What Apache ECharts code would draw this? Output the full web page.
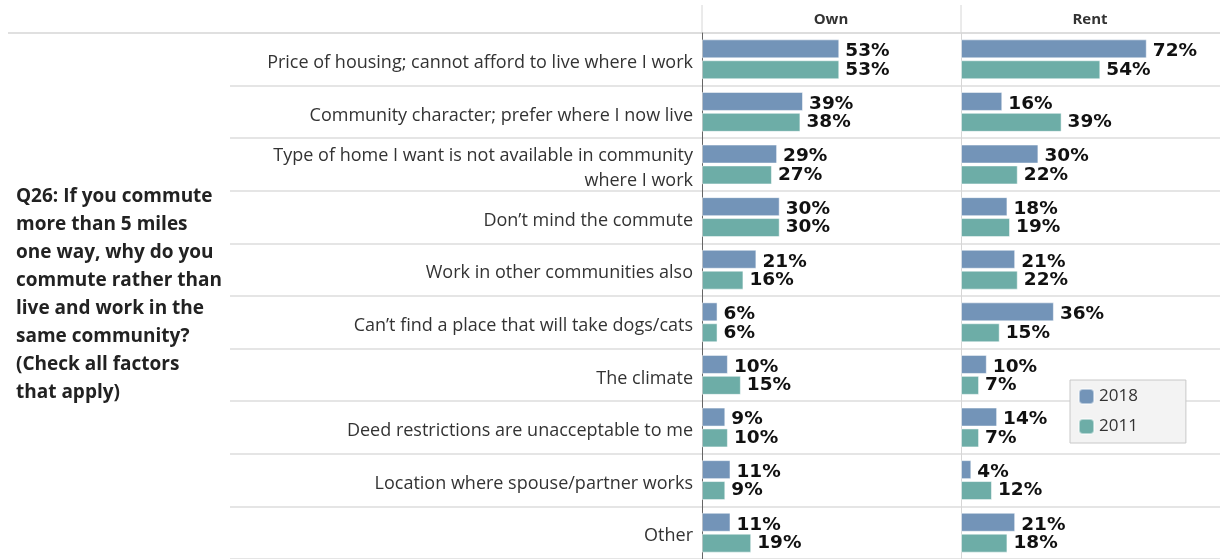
<!DOCTYPE html>
<html><head><meta charset="utf-8">
<script src="https://cdn.jsdelivr.net/npm/echarts@6/dist/echarts.min.js"></script>
<style>html,body{margin:0;padding:0;background:#fff}#c{width:1220px;height:559px}</style>
</head><body><div id="c"></div>
<script>
const categories = [
  'Price of housing; cannot afford to live where I work',
  'Community character; prefer where I now live',
  'Type of home I want is not available in community\nwhere I work',
  'Don\u2019t mind the commute',
  'Work in other communities also',
  'Can\u2019t find a place that will take dogs/cats',
  'The climate',
  'Deed restrictions are unacceptable to me',
  'Location where spouse/partner works',
  'Other'
];
const panels = ['Own', 'Rent'];
const seriesNames = ['2018', '2011'];
const own2018 = [53, 39, 29, 30, 21, 6, 10, 9, 11, 11];
const own2011 = [53, 38, 27, 30, 16, 6, 15, 10, 9, 19];
const rent2018 = [72, 16, 30, 18, 21, 36, 10, 14, 4, 21];
const rent2011 = [54, 39, 22, 19, 22, 15, 7, 7, 12, 18];
const question = 'Q26: If you commute\nmore than 5 miles\none way, why do you\ncommute rather than\nlive and work in the\nsame community?\n(Check all factors\nthat apply)';

const C18 = '#7394B8', C11 = '#6DADA7';
const chart = echarts.init(document.getElementById('c'), null, {renderer: 'canvas'});
const gTop = 33, gHeight = 526;
function lbl(dy) {
  return {show: true, position: 'right', distance: 6, offset: [0, dy], formatter: '{c}%', color: '#111',
    fontFamily: 'DejaVu Sans', fontWeight: 'bold', fontSize: 18.5};
}
function bar(name, data, idx, color, dy) {
  return {name, type: 'bar', xAxisIndex: idx, yAxisIndex: idx, data, barWidth: 19, barGap: '10%',
    itemStyle: {color, borderColor: 'rgba(255,255,255,0.5)', borderWidth: 1}, label: lbl(dy), silent: true};
}
chart.setOption({
  animation: false,
  textStyle: {fontFamily: 'Open Sans'},
  title: {text: question, left: 16, top: 183, padding: 0,
    textStyle: {fontFamily: 'Open Sans', fontWeight: 'bold', fontSize: 19, lineHeight: 28, color: '#222'}},
  legend: {data: seriesNames, orient: 'vertical', left: 1070, top: 380, itemWidth: 15, itemHeight: 15,
    itemGap: 13, padding: [8, 48, 8, 8], backgroundColor: '#f3f3f3', borderColor: '#c8c8c8', borderWidth: 1,
    textStyle: {fontFamily: 'Open Sans', fontSize: 17, color: '#333'}, selectedMode: false},
  grid: [
    {left: 702, width: 259, top: gTop, height: gHeight},
    {left: 961, width: 258, top: gTop, height: gHeight},
    {left: 230, width: 990, top: gTop, height: gHeight}
  ],
  xAxis: [
    {gridIndex: 0, type: 'value', min: 0, max: 100, show: false},
    {gridIndex: 1, type: 'value', min: 0, max: 100, show: false},
    {gridIndex: 2, type: 'value', min: 0, max: 100, show: false}
  ],
  yAxis: [
    {gridIndex: 0, type: 'category', data: categories, inverse: true,
      axisLine: {show: true, lineStyle: {color: '#666', width: 1}}, axisTick: {show: false},
      axisLabel: {margin: 9, fontSize: 18, color: '#333', fontFamily: 'Open Sans', align: 'right', lineHeight: 25,
        formatter: v => v.split('\n').map(s => '{a|' + s + '}').join('\n'),
        rich: {a: {fontSize: 18, color: '#333', fontFamily: 'Open Sans', lineHeight: 25, padding: [7, 0, 0, 0]}}},
      splitLine: {show: false}},
    {gridIndex: 1, type: 'category', data: categories, inverse: true,
      axisLine: {show: true, lineStyle: {color: '#d6d6d6'}}, axisTick: {show: false}, axisLabel: {show: false}},
    {gridIndex: 2, type: 'category', data: categories, inverse: true, z: 0,
      axisLine: {show: false}, axisTick: {show: false}, axisLabel: {show: false},
      splitLine: {show: true, lineStyle: {color: '#dcdcdc', width: 1.5}}}
  ],
  graphic: [
    {type: 'line', shape: {x1: 8, y1: gTop, x2: 1220, y2: gTop}, style: {stroke: '#d6d6d6', lineWidth: 1.5}},
    {type: 'line', shape: {x1: 702, y1: 5, x2: 702, y2: gTop}, style: {stroke: '#d6d6d6', lineWidth: 1}},
    {type: 'line', shape: {x1: 961, y1: 5, x2: 961, y2: gTop}, style: {stroke: '#d6d6d6', lineWidth: 1}},
    {type: 'text', x: 831, y: 20, style: {text: panels[0], align: 'center', verticalAlign: 'middle',
      font: 'bold 15px "Open Sans"', fill: '#333'}},
    {type: 'text', x: 1090, y: 20, style: {text: panels[1], align: 'center', verticalAlign: 'middle',
      font: 'bold 15px "Open Sans"', fill: '#333'}}
  ],
  series: [
    bar(seriesNames[0], own2018, 0, C18, 2.5),
    bar(seriesNames[1], own2011, 0, C11, 0),
    bar(seriesNames[0], rent2018, 1, C18, 2.5),
    bar(seriesNames[1], rent2011, 1, C11, 0)
  ]
});
</script></body></html>
